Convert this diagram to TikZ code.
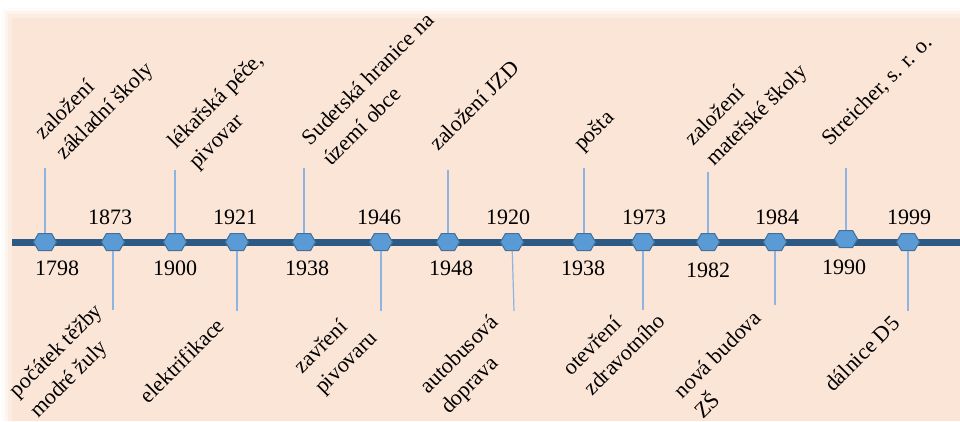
\documentclass[tikz,border=0pt]{standalone}
\usepackage{fontspec}
\setmainfont{Liberation Serif}
\usepackage{tikz}
\usetikzlibrary{shapes.symbols, positioning}
\definecolor{peach}{HTML}{FBE5D6}
\definecolor{axisblue}{HTML}{2C5A85}
\definecolor{markblue}{HTML}{5B9BD5}
\definecolor{markedge}{HTML}{41719C}
\definecolor{stemblue}{HTML}{8DB4E2}

\begin{document}
\begin{tikzpicture}
  [
    x=1pt, y=1pt,
    Mark/.style={signal, signal to=east and west, signal pointer angle=120, draw=markedge, fill=markblue, line width=1pt, minimum width=23pt, minimum height=17pt, inner sep=0pt},
    Year/.style={font=\fontsize{22}{26}\selectfont},
    Event/.style={rotate=45, anchor=base west, align=left, inner sep=0pt, font=\fontsize{22}{29}\selectfont},
    Stem/.style={draw=stemblue, line width=1.2pt}
  ]
  \useasboundingbox (0, 0) rectangle (960, 421);
  % Background
  \foreach \s/\o in {8/0.15, 5/0.3, 2/0.5} {
    \fill[peach, opacity=\o] (10-\s, 0) rectangle (960, 405+\s);
  }
  \fill[peach] (12, 0) rectangle (960, 403);
  % Axis
  \coordinate (a0) at(12, 179);
  \coordinate (a1) at(960, 179);
  \path [draw, axisblue, line width=7pt] (a0) -- (a1);
  % Nodes
  \node[Mark] (m1) at(45, 179) {};
  \node[Mark] (m2) at(113, 179) {};
  \node[Mark] (m3) at(175, 179) {};
  \node[Mark] (m4) at(237, 179) {};
  \node[Mark] (m5) at(304, 179) {};
  \node[Mark] (m6) at(381, 179) {};
  \node[Mark] (m7) at(448, 179) {};
  \node[Mark] (m8) at(512, 179) {};
  \node[Mark] (m9) at(584, 179) {};
  \node[Mark] (m10) at(643, 179) {};
  \node[Mark] (m11) at(708, 179) {};
  \node[Mark] (m12) at(775, 179) {};
  \node[Mark] (m13) at(846, 182) {};
  \node[Mark] (m14) at(908, 179) {};
  % Years
  \node[Year] (y1) at(57, 153) {1798};
  \node[Year] (y2) at(110, 204) {1873};
  \node[Year] (y3) at(175, 153) {1900};
  \node[Year] (y4) at(235, 204) {1921};
  \node[Year] (y5) at(307, 153) {1938};
  \node[Year] (y6) at(379, 204) {1946};
  \node[Year] (y7) at(451, 153) {1948};
  \node[Year] (y8) at(508, 204) {1920};
  \node[Year] (y9) at(583, 153) {1938};
  \node[Year] (y10) at(644, 204) {1973};
  \node[Year] (y11) at(708, 151) {1982};
  \node[Year] (y12) at(777, 204) {1984};
  \node[Year] (y13) at(844, 154) {1990};
  \node[Year] (y14) at(909, 204) {1999};
  % Stem ends
  \coordinate (t1) at(45, 253);
  \coordinate (t2) at(113, 111);
  \coordinate (t3) at(175, 251);
  \coordinate (t4) at(237, 110);
  \coordinate (t5) at(304, 253);
  \coordinate (t6) at(381, 110);
  \coordinate (t7) at(448, 251);
  \coordinate (t8) at(514, 110);
  \coordinate (t9) at(584, 253);
  \coordinate (t10) at(643, 111);
  \coordinate (t11) at(708, 249);
  \coordinate (t12) at(775, 116);
  \coordinate (t13) at(846, 253);
  \coordinate (t14) at(908, 110);
  % Lines
  \foreach \i in {1, ..., 14} {
    \path [Stem] (m\i) -- (t\i);
  }
  % Events (anchored at the start of the last line)
  \node[Event] (e1) at(64, 260) {založení\\základní školy};
  \node[Event] (e2) at(197, 251) {lékařská péče,\\pivovar};
  \node[Event] (e3) at(331, 254) {Sudetská hranice na\\území obce};
  \node[Event] (e4) at(438, 269) {založení JZD};
  \node[Event] (e5) at(582, 269) {pošta};
  \node[Event] (e6) at(714, 254) {založení\\mateřské školy};
  \node[Event] (e7) at(830, 274) {Streicher, s. r. o.};
  \node[Event] (e8) at(38, 2) {počátek těžby\\modré žuly};
  \node[Event] (e9) at(148, 16) {elektrifikace};
  \node[Event] (e10) at(323, 26) {zavření\\pivovaru};
  \node[Event] (e11) at(449, 6) {autobusová\\doprava};
  \node[Event] (e12) at(592, 24) {otevření\\zdravotního};
  \node[Event] (e13) at(703, 1) {nová budova\\ZŠ};
  \node[Event] (e14) at(833, 28) {dálnice D5};
\end{tikzpicture}
\end{document}
